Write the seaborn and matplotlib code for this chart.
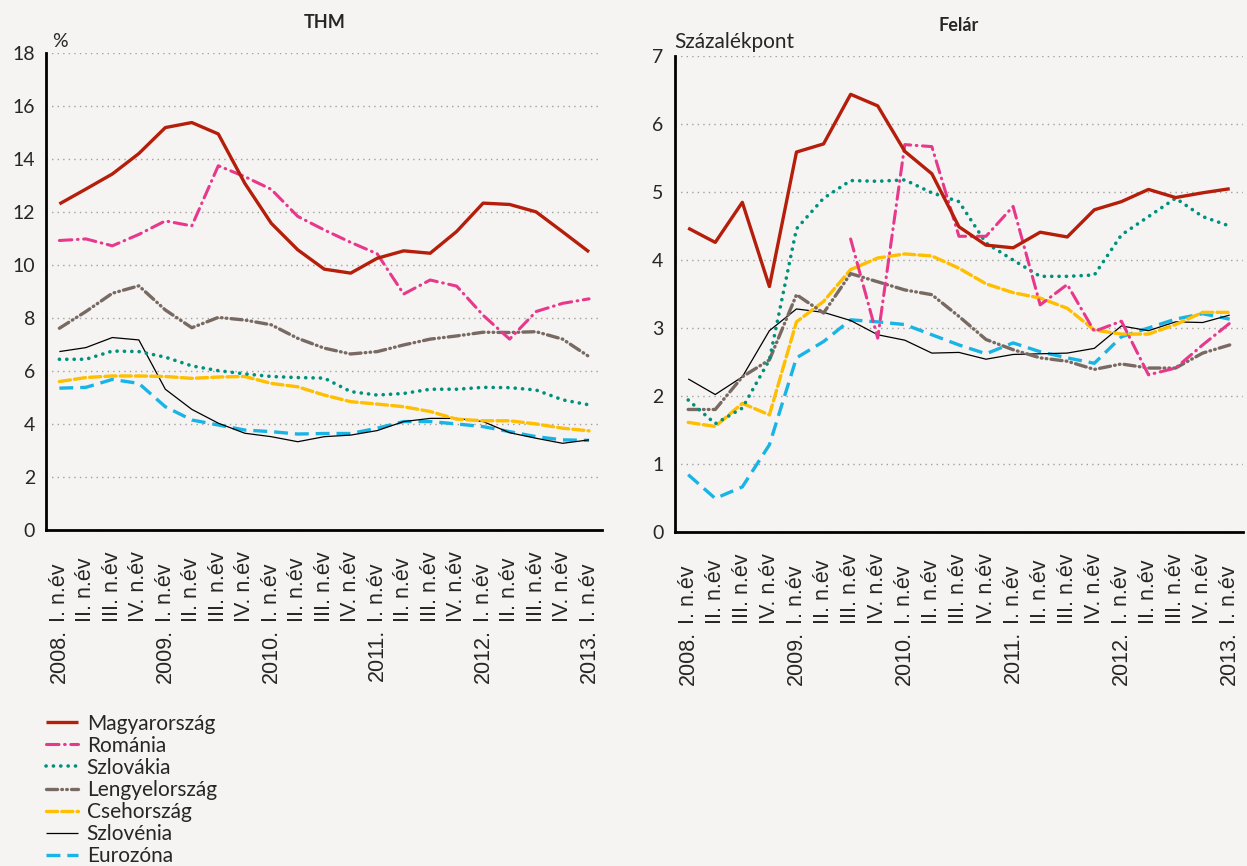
import numpy as np
import pandas as pd
import matplotlib
matplotlib.use('Agg')
import matplotlib.pyplot as plt
import matplotlib.transforms as mtransforms
import seaborn as sns

# negyedévek
years = ['2008.', '', '', '', '2009.', '', '', '', '2010.', '', '', '',
         '2011.', '', '', '', '2012.', '', '', '', '2013.']
quarters = ['I. n.év', 'II. n.év', 'III. n.év', 'IV. n.év'] * 5 + ['I. n.év']

countries = ['Magyarország', 'Románia', 'Szlovákia', 'Lengyelország',
             'Csehország', 'Szlovénia', 'Eurozóna']

# THM (%)
hu_thm = [12.3, 12.86, 13.43, 14.2, 15.18, 15.37, 14.94, 13.08, 11.57, 10.57, 9.84,
          9.69, 10.25, 10.53, 10.44, 11.26, 12.33, 12.28, 12.0, 11.25, 10.49]
ro_thm = [10.92, 10.98, 10.72, 11.15, 11.66, 11.47, 13.74, 13.33, 12.85, 11.83, 11.32,
          10.85, 10.42, 8.9, 9.43, 9.2, 8.1, 7.2, 8.24, 8.55, 8.72]
sk_thm = [6.44, 6.44, 6.75, 6.73, 6.52, 6.19, 6.01, 5.89, 5.79, 5.75, 5.73,
          5.22, 5.09, 5.15, 5.31, 5.31, 5.38, 5.37, 5.28, 4.91, 4.72]
pl_thm = [7.61, 8.24, 8.93, 9.21, 8.3, 7.63, 8.02, 7.92, 7.74, 7.23, 6.86,
          6.64, 6.73, 6.98, 7.2, 7.32, 7.46, 7.45, 7.48, 7.2, 6.54]
cz_thm = [5.6, 5.75, 5.81, 5.81, 5.79, 5.72, 5.77, 5.79, 5.53, 5.4, 5.09,
          4.84, 4.75, 4.65, 4.47, 4.18, 4.12, 4.12, 4.0, 3.84, 3.74]
si_thm = [6.73, 6.88, 7.26, 7.17, 5.31, 4.55, 4.03, 3.65, 3.52, 3.33, 3.52,
          3.58, 3.75, 4.09, 4.21, 4.21, 4.09, 3.67, 3.46, 3.27, 3.4]
ez_thm = [5.35, 5.38, 5.68, 5.53, 4.65, 4.15, 3.96, 3.77, 3.71, 3.62, 3.64,
          3.64, 3.84, 4.09, 4.09, 4.0, 3.9, 3.71, 3.52, 3.4, 3.38]

# Felár (százalékpont)
hu_fel = [4.47, 4.26, 4.85, 3.61, 5.59, 5.71, 6.44, 6.27, 5.6, 5.27, 4.49,
          4.22, 4.18, 4.41, 4.34, 4.74, 4.86, 5.04, 4.92, 4.99, 5.05]
ro_fel = [np.nan, np.nan, np.nan, np.nan, np.nan, np.nan, 4.31, 2.85, 5.7, 5.67, 4.35,
          4.35, 4.79, 3.34, 3.64, 2.95, 3.1, 2.31, 2.41, 2.75, 3.07]
sk_fel = [1.94, 1.59, 1.82, 2.53, 4.46, 4.91, 5.17, 5.16, 5.18, 4.99, 4.86,
          4.25, 4.0, 3.76, 3.76, 3.78, 4.37, 4.64, 4.91, 4.64, 4.5]
pl_fel = [1.8, 1.8, 2.28, 2.53, 3.49, 3.22, 3.8, 3.68, 3.56, 3.49, 3.17,
          2.83, 2.68, 2.56, 2.51, 2.39, 2.47, 2.41, 2.41, 2.63, 2.75]
cz_fel = [1.61, 1.55, 1.89, 1.72, 3.09, 3.39, 3.86, 4.03, 4.09, 4.06, 3.88,
          3.65, 3.52, 3.44, 3.29, 2.97, 2.91, 2.91, 3.05, 3.23, 3.23]
si_fel = [2.25, 2.02, 2.28, 2.96, 3.28, 3.23, 3.11, 2.9, 2.82, 2.63, 2.64,
          2.54, 2.61, 2.62, 2.63, 2.7, 3.03, 2.96, 3.09, 3.08, 3.19]
ez_fel = [0.84, 0.49, 0.66, 1.28, 2.56, 2.8, 3.12, 3.09, 3.05, 2.9, 2.75,
          2.62, 2.78, 2.65, 2.56, 2.48, 2.87, 3.0, 3.13, 3.21, 3.13]

thm = [hu_thm, ro_thm, sk_thm, pl_thm, cz_thm, si_thm, ez_thm]
fel = [hu_fel, ro_fel, sk_fel, pl_fel, cz_fel, si_fel, ez_fel]

colors = ['#b41e0a', '#e8388c', '#00917c', '#786a62', '#ffbe00', '#000000', '#19b4e6']
widths = [2.4, 2.2, 2.6, 2.4, 2.4, 0.9, 2.4]
styles = ['-', (0, (9, 4, 0.5, 4)), (0, (0.1, 5.2)), (0, (8, 3, 0.5, 3, 0.5, 3)),
          (0, (8, 3)), '-', (0, (10, 5))]
caps = ['butt', 'round', 'round', 'round', 'round', 'butt', 'butt']

bg = '#f5f4f2'
sns.set_style('white')
plt.rcParams['font.family'] = ['Lato', 'DejaVu Sans']
plt.rcParams['lines.scale_dashes'] = False

idx = np.arange(len(quarters))
rows = []
for name, a, b in zip(countries, thm, fel):
    for i in idx:
        rows.append({'orszag': name, 'x': i, 'THM': a[i], 'Felár': b[i]})
df = pd.DataFrame(rows)

fig = plt.figure(figsize=(12.47, 8.66), dpi=100, facecolor=bg)
ax1 = fig.add_axes([0.037, 0.388, 0.446, 0.551])
ax2 = fig.add_axes([0.541, 0.386, 0.456, 0.549])

handles = []
for ax, col, ymax in [(ax1, 'THM', 18), (ax2, 'Felár', 7)]:
    ax.set_facecolor(bg)
    for k, name in enumerate(countries):
        d = df[df['orszag'] == name]
        sns.lineplot(data=d, x='x', y=col, ax=ax, color=colors[k], lw=widths[k],
                     linestyle=styles[k], dash_capstyle=caps[k], solid_capstyle='butt',
                     label=name, legend=False, zorder=3 + (7 - k) * 0.1)
    ax.set_xlim(-0.5, len(quarters) - 0.5)
    ax.set_ylim(0, ymax)
    ax.set_yticks(np.arange(0, ymax + 1, 2 if ymax == 18 else 1))
    ax.yaxis.grid(True, linestyle=(0, (1, 3)), color='#a0a0a0', lw=1)
    ax.xaxis.grid(False)
    ax.set_xticks(idx)
    ax.set_xticklabels([])
    ax.set_xticks(np.arange(-0.5, len(quarters)), minor=True)
    ax.tick_params(axis='x', which='major', length=0)
    ax.tick_params(axis='x', which='minor', length=6, width=1.8, direction='out', color='black')
    ax.tick_params(axis='y', length=6, width=1.8, direction='out', labelsize=14, pad=2, color='black')
    ax.set_xlabel('')
    ax.set_ylabel('')
    for s in ['top', 'right']:
        ax.spines[s].set_visible(False)
    for s in ['left', 'bottom']:
        ax.spines[s].set_linewidth(2)
        ax.spines[s].set_color('black')
    ax.set_title(col, fontsize=13, fontweight='bold', pad=18)

    # kétszintű x tengelyfeliratok: negyedév felül, év alatta
    trans = mtransforms.blended_transform_factory(ax.transData, ax.transAxes)
    h_px = ax.get_position().height * 866
    y_q = -92 / h_px
    y_y = -99 / h_px
    for i in idx:
        ax.text(i, y_q, quarters[i], transform=trans, rotation=90, rotation_mode='anchor',
                ha='left', va='center', fontsize=15.5, family='Liberation Sans')
        if years[i]:
            ax.text(i, y_y, years[i], transform=trans, rotation=90, rotation_mode='anchor',
                    ha='right', va='center', fontsize=15.5, family='Liberation Sans')
    if ax is ax1:
        handles = ax.get_lines()[:len(countries)]

ax1.text(0.01, 1.005, '%', transform=ax1.transAxes, fontsize=14, ha='left', va='bottom')
ax2.text(0.0, 1.01, 'Százalékpont', transform=ax2.transAxes, fontsize=15, ha='left', va='bottom')

fig.legend(handles, countries, loc='upper left', bbox_to_anchor=(0.037, 0.176),
           frameon=False, fontsize=15, handlelength=1.55, handletextpad=0.4,
           labelspacing=0.1, borderaxespad=0, borderpad=0)

plt.savefig('out.png', dpi=100, facecolor=bg)
